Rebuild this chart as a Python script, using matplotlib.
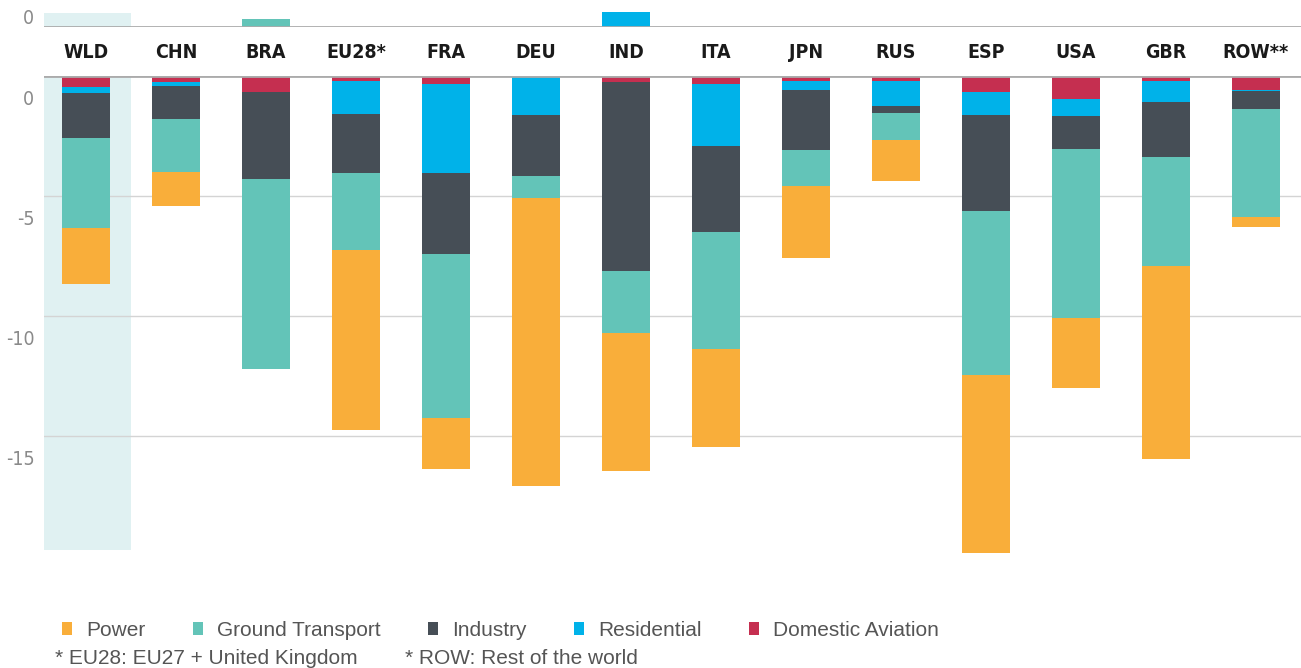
import numpy as np
import matplotlib
matplotlib.use("Agg")
import matplotlib.pyplot as plt
import matplotlib.transforms as mtransforms

countries = ["WLD", "CHN", "BRA", "EU28*", "FRA", "DEU", "IND", "ITA",
             "JPN", "RUS", "ESP", "USA", "GBR", "ROW**"]

# negative contributions, stacked from 0 downwards in this order
aviation = [-0.43, -0.22, -0.66, -0.19, -0.33, 0.0, -0.22, -0.33, -0.18, -0.18, -0.66, -0.95, -0.18, -0.56]
residential = [-0.27, -0.18, 0.0, -1.39, -3.68, -1.60, 0.0, -2.57, -0.39, -1.05, -0.94, -0.72, -0.90, -0.07]
industry = [-1.88, -1.38, -3.60, -2.45, -3.39, -2.57, -7.88, -3.57, -2.50, -0.30, -4.03, -1.36, -2.28, -0.74]
ground = [-3.75, -2.21, -7.94, -3.21, -6.84, -0.90, -2.60, -4.88, -1.50, -1.12, -6.81, -7.02, -4.55, -4.50]
power = [-2.32, -1.41, 0.0, -7.49, -2.11, -12.02, -5.74, -4.08, -2.99, -1.73, -7.43, -2.94, -8.03, -0.41]

# small positive contributions shown in the strip above the labels
ground_pos = [0, 0, 0.33, 0, 0, 0, 0, 0, 0, 0, 0, 0, 0, 0]
residential_pos = [0, 0, 0, 0, 0, 0, 0.62, 0, 0, 0, 0, 0, 0, 0]

series_names = ["Power", "Ground Transport", "Industry", "Residential", "Domestic Aviation"]
colors = {"Power": "#F9AE3A", "Ground Transport": "#63C4B8", "Industry": "#464E56",
          "Residential": "#00B2E9", "Domestic Aviation": "#C52F50"}
highlight = "#E0F1F2"

ticks = [0, -5, -10, -15]
tick_labels = ["0", "-5", "-10", "-15"]

W, H = 1301, 668
fig = plt.figure(figsize=(W / 100, H / 100), dpi=100)

regular = ["Liberation Sans", "DejaVu Sans"]

px = 24.0  # pixels per unit
left_px, zero_px, bottom_px = 44, 76.3, 556.3
ax = fig.add_axes([left_px / W, 1 - bottom_px / H, (W - left_px) / W, (bottom_px - zero_px) / H])
top_h = 27.3
axt = fig.add_axes([left_px / W, 1 - top_h / H, (W - left_px) / W, top_h / H])

x = np.arange(len(countries))
xl = ((left_px - 86) / 90, (W - 86) / 90)
bw = 48 / 90

# highlight band for the world total
ax.fill_between([xl[0], 0.5], -19.75, 0, color=highlight, lw=0, zorder=0)
axt.fill_between([xl[0], 0.5], 0, 0.6, color=highlight, lw=0, zorder=0)

stack = [("Domestic Aviation", aviation), ("Residential", residential),
         ("Industry", industry), ("Ground Transport", ground), ("Power", power)]
bottom = np.zeros(len(countries))
handles = {}
for name, vals in stack:
    v = np.array(vals)
    handles[name] = ax.bar(x, v, bw, bottom=bottom, color=colors[name], lw=0, zorder=2)
    bottom = bottom + v

axt.bar(x, ground_pos, bw, color=colors["Ground Transport"], lw=0, zorder=2)
axt.bar(x, residential_pos, bw, bottom=ground_pos, color=colors["Residential"], lw=0, zorder=2)

for a in (ax, axt):
    a.set_xlim(*xl)
    a.set_xticks([])
    for s in a.spines.values():
        s.set_visible(False)
    a.axhline(0, color="#ababab", lw=2, zorder=3)
    a.patch.set_alpha(0)

ax.set_ylim(-(bottom_px - zero_px) / px, 0)
axt.set_ylim(0, top_h / px)

ax.set_yticks(ticks)
ax.set_yticklabels(tick_labels)
ax.tick_params(axis="y", length=0, pad=7, labelsize=14, labelcolor="#8a8a8a")
ax.yaxis.grid(True, color="#d4d4d4", lw=1, zorder=1)
ax.set_axisbelow(True)
for lab in ax.get_yticklabels():
    lab.set_family("DejaVu Sans")
    lab.set_stretch("condensed")
    lab.set_transform(lab.get_transform() + mtransforms.ScaledTranslation(0, -21 / 100, fig.dpi_scale_trans))

axt.set_yticks([0])
axt.set_yticklabels(["0"])
axt.tick_params(axis="y", length=0, pad=7, labelsize=14, labelcolor="#8a8a8a")
for lab in axt.get_yticklabels():
    lab.set_family("DejaVu Sans")
    lab.set_stretch("condensed")
    lab.set_transform(lab.get_transform() + mtransforms.ScaledTranslation(0, 11 / 100, fig.dpi_scale_trans))

# country labels between the two panels
tr = mtransforms.blended_transform_factory(ax.transData, fig.transFigure)
for xi, c in zip(x, countries):
    ax.text(xi, 1 - 52 / H, c, transform=tr, ha="center", va="center",
            fontsize=14, fontweight="bold", family="DejaVu Sans", fontstretch="condensed",
            color="#1a1a1a")

# legend
leg = fig.legend([handles[n] for n in series_names], series_names,
                 loc="center left", bbox_to_anchor=(62 / W, 1 - 630 / H),
                 ncol=5, frameon=False, labelcolor="#555555",
                 handlelength=0.48, handleheight=0.6, handletextpad=0.7,
                 columnspacing=2.25, borderpad=0, borderaxespad=0,
                 prop={"family": regular, "size": 15})

fig.text(55 / W, 1 - 659 / H, "* EU28: EU27 + United Kingdom", ha="left", va="center",
         fontsize=15, family=regular, color="#555555")
fig.text(405 / W, 1 - 659 / H, "* ROW: Rest of the world", ha="left", va="center",
         fontsize=15, family=regular, color="#555555")

fig.savefig("out.png", dpi=100)
